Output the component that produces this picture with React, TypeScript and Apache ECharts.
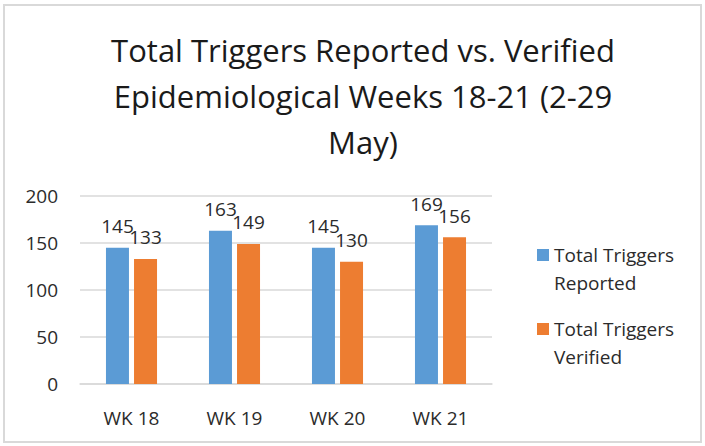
import React, { useEffect, useRef } from "react";
import * as echarts from "echarts";

const categories = ["WK 18", "WK 19", "WK 20", "WK 21"];
const reported = [145, 163, 145, 169];
const verified = [133, 149, 130, 156];
const seriesNames = ["Total Triggers Reported", "Total Triggers Verified"];
const titleText = "Total Triggers Reported vs. Verified\nEpidemiological Weeks 18-21 (2-29\nMay)";

const FONT = "'Open Sans', 'Noto Sans', sans-serif";
const TXT = "#2b2b2b";

export default function App() {
  const ref = useRef<HTMLDivElement>(null);
  useEffect(() => {
    if (!ref.current) return;
    const chart = echarts.init(ref.current, null, { renderer: "svg" });
    chart.setOption({
      animation: false,
      backgroundColor: "#ffffff",
      textStyle: { fontFamily: FONT },
      title: {
        text: titleText,
        left: 358,
        textAlign: "center",
        top: 22,
        textStyle: {
          fontFamily: FONT,
          fontSize: 31,
          fontWeight: "normal",
          color: "#1a1a1a",
          lineHeight: 46,
        },
      },
      graphic: [
        {
          type: "rect",
          shape: { x: 4, y: 5, width: 697, height: 437 },
          style: { fill: "none", stroke: "#d9d9d9", lineWidth: 2 },
        },
      ],
      legend: {
        orient: "vertical",
        left: 532,
        top: 208,
        itemWidth: 12,
        itemHeight: 12,
        itemGap: -10,
        icon: "rect",
        textStyle: { fontFamily: FONT, fontSize: 19, color: TXT, lineHeight: 28 },
        formatter: (n: string) => "\n" + n.replace("Triggers ", "Triggers\n"),
        data: seriesNames,
      },
      grid: { left: 80, top: 196, width: 412, height: 188 },
      xAxis: {
        type: "category",
        data: categories,
        axisLine: { lineStyle: { color: "#d9d9d9", width: 1.5 } },
        axisTick: { show: false },
        axisLabel: { fontFamily: FONT, fontSize: 19, color: TXT, margin: 24 },
      },
      yAxis: {
        type: "value",
        min: 0,
        max: 200,
        interval: 50,
        axisLine: { show: false },
        axisTick: { show: false },
        splitLine: { lineStyle: { color: "#d9d9d9", width: 1.5 } },
        axisLabel: { fontFamily: FONT, fontSize: 19, color: TXT, margin: 22 },
      },
      series: [
        {
          name: seriesNames[0],
          type: "bar",
          data: reported,
          barWidth: 23,
          barGap: "22%",
          itemStyle: { color: "#5B9BD5" },
          label: { show: true, position: "top", distance: 12, fontFamily: FONT, fontSize: 19, color: TXT },
        },
        {
          name: seriesNames[1],
          type: "bar",
          data: verified,
          barWidth: 23,
          itemStyle: { color: "#ED7D31" },
          label: { show: true, position: "top", distance: 12, fontFamily: FONT, fontSize: 19, color: TXT },
        },
      ],
    });
    return () => chart.dispose();
  }, []);
  return (
    <div
      ref={ref}
      style={{ position: "fixed", left: 0, top: 0, width: 705, height: 446 }}
    />
  );
}
